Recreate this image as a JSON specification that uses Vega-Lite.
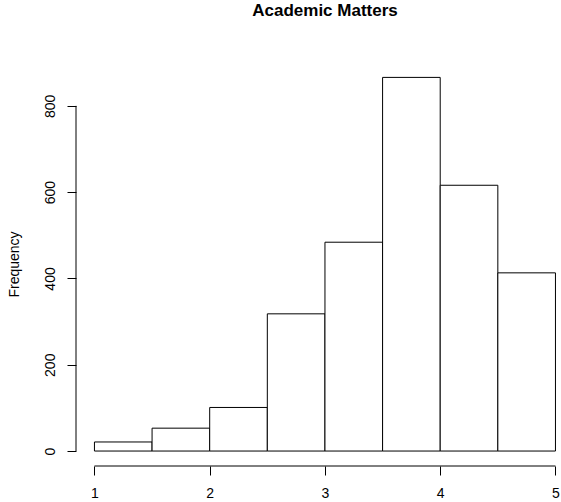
{
  "$schema": "https://vega.github.io/schema/vega-lite/v6.json",
  "autosize": "none",
  "width": 485,
  "height": 404,
  "padding": {"left": 76, "top": 62, "right": 0, "bottom": 36},
  "background": "white",
  "config": {"view": {"stroke": null}, "font": "Liberation Sans"},
  "title": {
    "text": "Academic Matters",
    "font": "Liberation Sans",
    "fontSize": 17,
    "fontWeight": "bold",
    "color": "black",
    "anchor": "middle",
    "frame": "group",
    "baseline": "alphabetic",
    "offset": 29,
    "dx": 6.5
  },
  "datasets": {
    "bins": [
      {"bin_start": 1.0, "bin_end": 1.5, "count": 21},
      {"bin_start": 1.5, "bin_end": 2.0, "count": 53},
      {"bin_start": 2.0, "bin_end": 2.5, "count": 101},
      {"bin_start": 2.5, "bin_end": 3.0, "count": 318},
      {"bin_start": 3.0, "bin_end": 3.5, "count": 484},
      {"bin_start": 3.5, "bin_end": 4.0, "count": 866},
      {"bin_start": 4.0, "bin_end": 4.5, "count": 616},
      {"bin_start": 4.5, "bin_end": 5.0, "count": 413}
    ],
    "xaxis": [{"x": 1, "x2": 5, "y": -34.68}],
    "yaxis": [{"x": 0.84, "y": 0, "y2": 800}]
  },
  "layer": [
    {
      "data": {"name": "bins"},
      "mark": {"type": "bar", "fill": "white", "stroke": "black", "strokeWidth": 1, "clip": false},
      "encoding": {
        "x": {
          "field": "bin_start", "type": "quantitative",
          "scale": {"domain": [0.84, 5.048], "nice": false, "zero": false},
          "axis": {
            "values": [1, 2, 3, 4, 5], "domain": false, "grid": false,
            "tickSize": 9, "tickColor": "black", "tickWidth": 1,
            "labelFont": "Liberation Sans", "labelFontSize": 14, "labelColor": "black",
            "labelPadding": 11, "labelBaseline": "top", "labelFlush": false,
            "format": "d", "title": null
          }
        },
        "x2": {"field": "bin_end"},
        "y": {
          "field": "count", "type": "quantitative",
          "scale": {"domain": [-34.68, 901.68], "nice": false, "zero": false},
          "axis": {
            "values": [0, 200, 400, 600, 800], "domain": false, "grid": false,
            "tickSize": 9, "tickColor": "black", "tickWidth": 1,
            "labelFont": "Liberation Sans", "labelFontSize": 14, "labelColor": "black",
            "labelAngle": 270, "labelAlign": "center", "labelBaseline": "alphabetic",
            "labelPadding": 13, "labelFlush": false, "format": "d",
            "title": "Frequency", "titleFont": "Liberation Sans", "titleFontSize": 14,
            "titleFontWeight": "normal", "titleColor": "black", "titlePadding": 22
          }
        },
        "y2": {"datum": 0}
      }
    },
    {
      "data": {"name": "xaxis"},
      "mark": {"type": "rule", "color": "black", "strokeWidth": 1},
      "encoding": {
        "x": {"field": "x", "type": "quantitative"},
        "x2": {"field": "x2"},
        "y": {"field": "y", "type": "quantitative"}
      }
    },
    {
      "data": {"name": "yaxis"},
      "mark": {"type": "rule", "color": "black", "strokeWidth": 1},
      "encoding": {
        "x": {"field": "x", "type": "quantitative"},
        "y": {"field": "y", "type": "quantitative"},
        "y2": {"field": "y2"}
      }
    }
  ]
}
